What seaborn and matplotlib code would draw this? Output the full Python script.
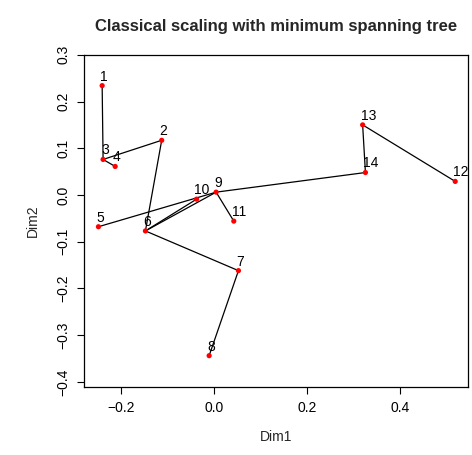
import matplotlib
matplotlib.use("Agg")
import matplotlib.pyplot as plt
import seaborn as sns
import pandas as pd

# coordinates (classical MDS, 2 dims)
labels = [str(i) for i in range(1, 15)]
dim1 = [-0.241, -0.113, -0.239, -0.213, -0.249, -0.148, 0.052,
        -0.011, 0.004, -0.038, 0.042, 0.518, 0.319, 0.325]
dim2 = [0.234, 0.117, 0.076, 0.061, -0.068, -0.077, -0.162,
        -0.344, 0.006, -0.009, -0.056, 0.029, 0.150, 0.048]

# minimum spanning tree edges (1-based point numbers)
edge_from = [1, 3, 3, 2, 5, 6, 6, 6, 7, 9, 9, 14, 13]
edge_to = [3, 4, 2, 6, 9, 10, 9, 7, 8, 11, 14, 13, 12]

x_ticks = [-0.2, 0.0, 0.2, 0.4]
y_ticks = [-0.4, -0.3, -0.2, -0.1, 0.0, 0.1, 0.2, 0.3]

df = pd.DataFrame({"Dim1": dim1, "Dim2": dim2, "label": labels})

sns.set_style("white")
plt.rcParams["font.family"] = ["Liberation Sans", "DejaVu Sans"]

fig = plt.figure(figsize=(4.72, 4.55), dpi=100)
ax = fig.add_axes([0.178, 0.150, 0.814, 0.730])

# tree edges
for a, b in zip(edge_from, edge_to):
    ax.plot([dim1[a - 1], dim1[b - 1]], [dim2[a - 1], dim2[b - 1]],
            color="black", linewidth=0.9, zorder=1)

sns.scatterplot(data=df, x="Dim1", y="Dim2", color="red", s=14,
                edgecolor="none", ax=ax, zorder=2)

for _, row in df.iterrows():
    ax.annotate(row["label"], (row["Dim1"], row["Dim2"]),
                xytext=(-1.5, 1.5), textcoords="offset points",
                ha="left", va="bottom", fontsize=10, color="black")

ax.set_xlim(-0.280, 0.546)
ax.set_ylim(-0.4105, 0.3004)
ax.set_xticks(x_ticks)
ax.set_yticks(y_ticks)
ax.set_xticklabels([f"{t:.1f}".replace("-", "\u2212") for t in x_ticks])
ax.set_yticklabels([f"{t:.1f}".replace("-", "\u2212") for t in y_ticks],
                   rotation=90, va="center")
ax.tick_params(axis="both", direction="out", length=5, width=0.8,
               pad=5, labelsize=10, colors="black", bottom=True, left=True)

for sp in ax.spines.values():
    sp.set_color("black")
    sp.set_linewidth(0.9)

ax.set_xlabel("Dim1", fontsize=10, labelpad=11)
ax.set_ylabel("Dim2", fontsize=10, labelpad=12)
ax.set_title("Classical scaling with minimum spanning tree",
             fontsize=12, fontweight="bold", pad=17)

fig.savefig("out.png", dpi=100)
